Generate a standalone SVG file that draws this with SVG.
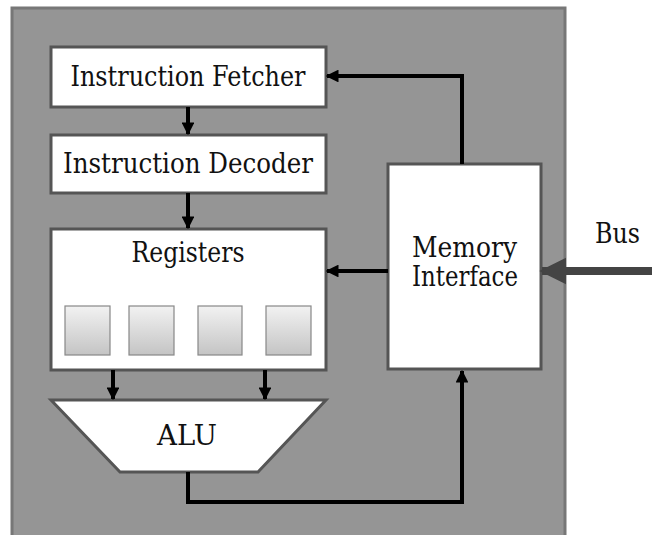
<svg xmlns="http://www.w3.org/2000/svg" width="652" height="535" viewBox="0 0 652 535">
<defs>
<style>
.box{fill:#fff;stroke:#555;stroke-width:3}
.t{font-family:'DejaVu Serif','Liberation Serif',serif;font-size:27px;fill:#111;text-anchor:middle}
.c{fill:none;stroke:#000;stroke-width:4}
.cell{fill:url(#g);stroke:#888;stroke-width:1.2}
</style>
<linearGradient id="g" x1="0" y1="0" x2="0" y2="1">
<stop offset="0" stop-color="#f2f2f2"/>
<stop offset="1" stop-color="#c4c4c4"/>
</linearGradient>
<marker id="a" viewBox="0 0 10 10" refX="9" refY="5" markerWidth="3.2" markerHeight="3.2" markerUnits="strokeWidth" orient="auto">
<path d="M0,0 L10,5 L0,10 z" fill="#000"/>
</marker>
<marker id="b" viewBox="0 0 10 10" refX="9" refY="5" markerWidth="3.4" markerHeight="3.4" markerUnits="strokeWidth" orient="auto">
<path d="M0,0 L10,5 L0,10 z" fill="#444"/>
</marker>
</defs>
<rect x="0" y="0" width="652" height="535" fill="#fff"/>
<rect id="chip" x="12" y="8" width="553" height="540" fill="#959595" stroke="#777" stroke-width="3"/>
<g id="fetcher">
<rect class="box" x="51" y="47" width="275" height="60"/>
<text class="t" x="188" y="86" textLength="235" lengthAdjust="spacingAndGlyphs">Instruction Fetcher</text>
</g>
<g id="decoder">
<rect class="box" x="51" y="135" width="275" height="58"/>
<text class="t" x="188" y="173" textLength="250" lengthAdjust="spacingAndGlyphs">Instruction Decoder</text>
</g>
<g id="registers">
<rect class="box" x="51" y="229" width="275" height="141"/>
<text class="t" x="188" y="262" textLength="113" lengthAdjust="spacingAndGlyphs">Registers</text>
<rect class="cell" x="65" y="306" width="45" height="49"/>
<rect class="cell" x="129" y="306" width="45" height="49"/>
<rect class="cell" x="198" y="306" width="44" height="49"/>
<rect class="cell" x="266" y="306" width="45" height="49"/>
</g>
<g id="alu">
<polygon class="box" points="51,400 326,400 258,472 120,472"/>
<text class="t" x="187" y="445" textLength="60" lengthAdjust="spacingAndGlyphs">ALU</text>
</g>
<g id="memory">
<rect class="box" x="388" y="164" width="153" height="205"/>
<text class="t" x="464.5" y="257" textLength="105" lengthAdjust="spacingAndGlyphs">Memory</text>
<text class="t" x="465" y="286" textLength="106" lengthAdjust="spacingAndGlyphs">Interface</text>
</g>
<text id="bus" class="t" x="617.5" y="243" textLength="45" lengthAdjust="spacingAndGlyphs">Bus</text>
<g id="connectors">
<path class="c" d="M188,107 V134" marker-end="url(#a)"/>
<path class="c" d="M188,193 V228" marker-end="url(#a)"/>
<path class="c" d="M113,370 V399" marker-end="url(#a)"/>
<path class="c" d="M265,370 V399" marker-end="url(#a)"/>
<path class="c" d="M462,164 V76 H327" marker-end="url(#a)"/>
<path class="c" d="M388,271 H327" marker-end="url(#a)"/>
<path class="c" d="M188,472 V502 H462 V371" marker-end="url(#a)"/>
<path d="M652,271 H542" fill="none" stroke="#444" stroke-width="8" marker-end="url(#b)"/>
</g>
</svg>
